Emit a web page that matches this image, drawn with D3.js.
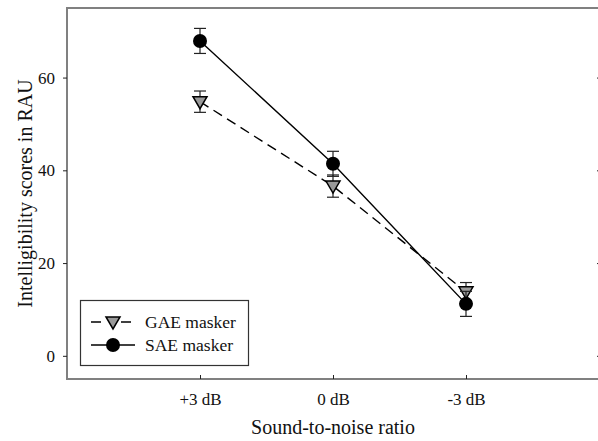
<!DOCTYPE html>
<html>
<head>
<meta charset="utf-8">
<script src="https://cdn.jsdelivr.net/npm/d3@7"></script>
<style>
  body { margin: 0; background: #fff; }
  svg { display: block; }
</style>
</head>
<body>
<svg id="chart"></svg>
<script>
// values
let categories = ["+3 dB", "0 dB", "-3 dB"]
let gae_values = [54.8, 36.6, 13.8]
let gae_errors = [2.3, 2.4, 2.0]
let sae_values = [67.9, 41.4, 11.2]
let sae_errors = [2.7, 2.7, 2.7]
let y_ticks = [0, 20, 40, 60]
let series_names = ["GAE masker", "SAE masker"]

const width = 598, height = 441
const m_left = 67, m_right = 599, m_top = 8, m_bottom = 379
const font = "'Liberation Serif', 'Times New Roman', serif"

let svg = d3.select("#chart")
    .attr("width", width)
    .attr("height", height)
    .attr("font-family", font)

let x = d3.scalePoint()
    .domain(categories)
    .range([m_left, m_right])
    .padding(1)

let y = d3.scaleLinear()
    .domain([-5, 75])
    .range([m_bottom, m_top])

// frame
svg.append("rect")
    .attr("x", m_left)
    .attr("y", m_top)
    .attr("width", m_right - m_left)
    .attr("height", m_bottom - m_top)
    .attr("fill", "none")
    .attr("stroke", "#808080")
    .attr("stroke-width", 2)

// axes
let y_axis = svg.append("g")
    .attr("transform", `translate(${m_left},0)`)
    .call(d3.axisLeft(y).tickValues(y_ticks).tickSize(4).tickPadding(8))
let y_axis_r = svg.append("g")
    .attr("transform", `translate(${m_right - 2},0)`)
    .call(d3.axisLeft(y).tickValues(y_ticks).tickSize(-4).tickFormat(""))
let x_axis = svg.append("g")
    .attr("transform", `translate(0,${m_bottom})`)
    .call(d3.axisBottom(x).tickSize(-4).tickPadding(11))

for (let g of [y_axis, y_axis_r, x_axis]) {
    g.attr("font-family", font)
    g.select(".domain").remove()
    g.selectAll(".tick line").attr("stroke", "#222").attr("stroke-width", 1)
    g.selectAll(".tick text")
        .attr("fill", "#111")
        .attr("font-size", 17)
        .attr("font-family", font)
}
x_axis.selectAll(".tick text").attr("dy", "0.9em")

// axis titles
svg.append("text")
    .attr("x", (m_left + m_right) / 2)
    .attr("y", 434)
    .attr("text-anchor", "middle")
    .attr("font-size", 20)
    .attr("font-family", font)
    .attr("fill", "#111")
    .text("Sound-to-noise ratio")

svg.append("text")
    .attr("transform", `translate(32,${(m_top + m_bottom) / 2}) rotate(-90)`)
    .attr("text-anchor", "middle")
    .attr("font-size", 20)
    .attr("font-family", font)
    .attr("fill", "#111")
    .text("Intelligibility scores in RAU")

let tri = "M-7,-5L7,-5L0,7Z"

function draw_series(values, errors, dashed, marker) {
    let pts = categories.map((c, i) => ({ c: c, v: values[i], e: errors[i] }))
    let line = d3.line().x(d => x(d.c)).y(d => y(d.v))
    svg.append("path")
        .datum(pts)
        .attr("d", line)
        .attr("fill", "none")
        .attr("stroke", "#000")
        .attr("stroke-width", 1.4)
        .attr("stroke-dasharray", dashed ? "10,6" : null)

    let eb = svg.append("g").attr("stroke", "#222").attr("stroke-width", 1.2)
    pts.forEach(d => {
        eb.append("line")
            .attr("x1", x(d.c)).attr("x2", x(d.c))
            .attr("y1", y(d.v - d.e)).attr("y2", y(d.v + d.e))
        eb.append("line")
            .attr("x1", x(d.c) - 6).attr("x2", x(d.c) + 6)
            .attr("y1", y(d.v + d.e)).attr("y2", y(d.v + d.e))
        eb.append("line")
            .attr("x1", x(d.c) - 6).attr("x2", x(d.c) + 6)
            .attr("y1", y(d.v - d.e)).attr("y2", y(d.v - d.e))
    })

    if (marker == "tri") {
        svg.append("g").selectAll("path")
            .data(pts).enter().append("path")
            .attr("d", tri)
            .attr("transform", d => `translate(${x(d.c)},${y(d.v)})`)
            .attr("fill", "#9a9a9a")
            .attr("stroke", "#000")
            .attr("stroke-width", 1.5)
    } else {
        svg.append("g").selectAll("circle")
            .data(pts).enter().append("circle")
            .attr("cx", d => x(d.c))
            .attr("cy", d => y(d.v))
            .attr("r", 7)
            .attr("fill", "#000")
    }
}

draw_series(gae_values, gae_errors, true, "tri")
draw_series(sae_values, sae_errors, false, "circle")

// legend
let legend = svg.append("g")
legend.append("rect")
    .attr("x", 80.5).attr("y", 300.5)
    .attr("width", 168).attr("height", 65)
    .attr("fill", "#fff")
    .attr("stroke", "#333")
    .attr("stroke-width", 1.2)

series_names.forEach((name, i) => {
    let ly = 322 + i * 23
    legend.append("line")
        .attr("x1", 91).attr("x2", i == 0 ? 131 : 135)
        .attr("y1", ly).attr("y2", ly)
        .attr("stroke", "#000")
        .attr("stroke-width", 1.4)
        .attr("stroke-dasharray", i == 0 ? "10,20,10" : null)
    if (i == 0) {
        legend.append("path")
            .attr("d", tri)
            .attr("transform", `translate(113,${ly})`)
            .attr("fill", "#9a9a9a")
            .attr("stroke", "#000")
            .attr("stroke-width", 1.5)
    } else {
        legend.append("circle")
            .attr("cx", 113).attr("cy", ly).attr("r", 7)
            .attr("fill", "#000")
    }
    legend.append("text")
        .attr("x", 145)
        .attr("y", ly + 6)
        .attr("font-size", 17.5)
        .attr("font-family", font)
        .attr("fill", "#111")
        .text(name)
})
</script>
</body>
</html>
